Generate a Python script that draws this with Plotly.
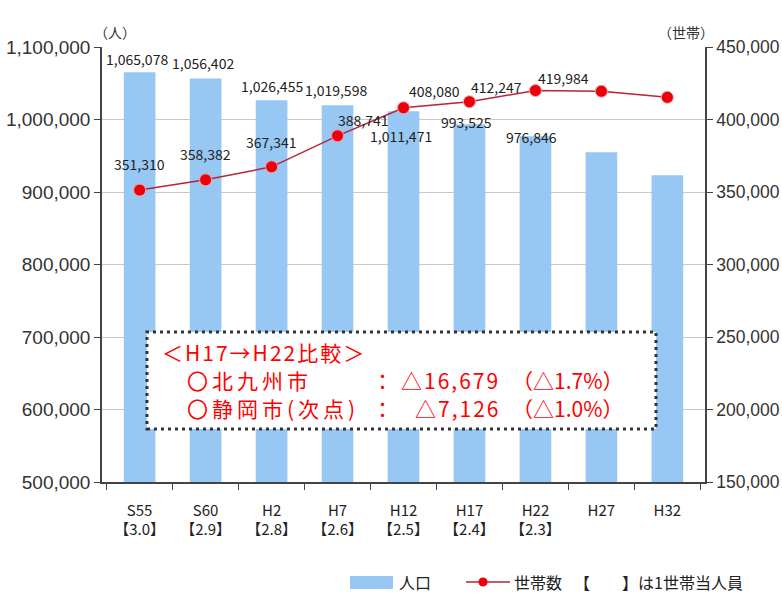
import plotly.graph_objects as go

# ---- data ----
categories = ["S55", "S60", "H2", "H7", "H12", "H17", "H22", "H27", "H32"]
persons_per_household = ["3.0", "2.9", "2.8", "2.6", "2.5", "2.4", "2.3", "", ""]
population = [1065078, 1056402, 1026455, 1019598, 1011471, 993525, 976846, 955000, 923000]
households = [351310, 358382, 367341, 388741, 408080, 412247, 419984, 419500, 415300]
pop_labeled = [True, True, True, True, True, True, True, False, False]
hh_labeled = [True, True, True, True, True, True, True, False, False]

# ---- style (label offsets in px) ----
pop_label_shift = [(-3, 13), (-3, 16), (0, 14), (-2, 15), (-3, -25), (-3, 2), (-4, -1)]
hh_label_shift = [(0, 26), (0, 26), (0, 25), (26, 16), (31, 17), (27, 15), (28, 13)]

CJK = "Noto Sans CJK JP"
SANS = "Liberation Sans"
BAR_COLOR = "#97c7f3"
LINE_COLOR = "#b8233a"
MARK_COLOR = "#e8000b"

ticktext = [f"{c}<br>【{r}】" if r else c for c, r in zip(categories, persons_per_household)]

fig = go.Figure()
fig.add_trace(go.Bar(
    x=categories, y=population, name="人口",
    marker=dict(color=BAR_COLOR, line=dict(width=0)),
    yaxis="y",
))
fig.add_trace(go.Scatter(
    x=categories, y=households, name="世帯数", mode="lines+markers",
    line=dict(color=LINE_COLOR, width=1.5),
    marker=dict(color=MARK_COLOR, size=12, line=dict(color="#ff9c9c", width=1)),
    yaxis="y2",
))

annotations = []
i = 0
for c, v, ok in zip(categories, population, pop_labeled):
    if ok:
        dx, dy = pop_label_shift[i]
        annotations.append(dict(x=c, y=v, xref="x", yref="y", text=f"{v:,}", showarrow=False,
                                xshift=dx, yshift=dy, font=dict(family=CJK, size=14, color="#222")))
        i += 1
i = 0
for c, v, ok in zip(categories, households, hh_labeled):
    if ok:
        dx, dy = hh_label_shift[i]
        annotations.append(dict(x=c, y=v, xref="x", yref="y2", text=f"{v:,}", showarrow=False,
                                xshift=dx, yshift=dy, font=dict(family=CJK, size=14, color="#222")))
        i += 1

# axis unit titles
annotations.append(dict(x=-0.017, y=1.062, xref="paper", yref="paper", text="（人）", showarrow=False,
                        font=dict(family=CJK, size=14, color="#333")))
annotations.append(dict(x=1.018, y=1.062, xref="paper", yref="paper", text="（世帯）", showarrow=False,
                        font=dict(family=CJK, size=14, color="#333")))

# manual legend
leg_y = -0.2299
leg_font = dict(family=CJK, size=16, color="#222")
for x, t in [(0.4892, "人口"), (0.680, "世帯数"), (0.7794, "【　　】は1世帯当人員")]:
    annotations.append(dict(x=x, y=leg_y, xref="paper", yref="paper", xanchor="left", yanchor="middle",
                            text=t, showarrow=False, font=leg_font))

# comparison box text
red = dict(family=CJK, size=21, color="#ff0000")
box_lines = [
    (0.096, 0.299, "left", '<span style="letter-spacing:2px">＜H17→H22比較＞</span>'),
    (0.1376, 0.2345, "left", '<span style="letter-spacing:4px">〇北九州市</span>'),
    (0.466, 0.2345, "center", "："),
    (0.6634, 0.2345, "right", '<span style="letter-spacing:2px">△16,679</span>'),
    (0.676, 0.2345, "left", "（△1.7%）"),
    (0.1376, 0.170, "left", '<span style="letter-spacing:4px">〇静岡市(次点)</span>'),
    (0.466, 0.170, "center", "："),
    (0.6634, 0.170, "right", '<span style="letter-spacing:2px">△7,126</span>'),
    (0.676, 0.170, "left", "（△1.0%）"),
]
for x, y, anc, t in box_lines:
    annotations.append(dict(x=x, y=y, xref="paper", yref="paper", xanchor=anc, yanchor="middle",
                            text=t, showarrow=False, font=red))

shapes = [
    dict(type="rect", xref="paper", yref="paper", x0=0.0746, x1=0.9187, y0=0.1218, y1=0.3448,
         line=dict(color="#333333", width=3, dash="3px,4px"), fillcolor="white", layer="above"),
    # legend swatches
    dict(type="rect", xref="paper", yref="paper", x0=0.4113, x1=0.4826, y0=-0.246, y1=-0.2161,
         line=dict(width=0), fillcolor=BAR_COLOR),
    dict(type="line", xref="paper", yref="paper", x0=0.6036, x1=0.6766, y0=leg_y, y1=leg_y,
         line=dict(color=LINE_COLOR, width=1.5)),
    dict(type="circle", xref="paper", yref="paper", x0=0.6252, x1=0.6385, y0=leg_y - 0.0092, y1=leg_y + 0.0092,
         line=dict(color=MARK_COLOR, width=1), fillcolor=MARK_COLOR),
]

fig.update_layout(
    width=782, height=593,
    margin=dict(l=102, r=77, t=47, b=111, autoexpand=False),
    paper_bgcolor="white", plot_bgcolor="white",
    bargap=0.52,
    showlegend=False,
    font=dict(family=CJK),
    xaxis=dict(tickmode="array", tickvals=categories, ticktext=ticktext, automargin=False,
               tickangle=0,
               tickson="boundaries", ticks="outside", ticklen=6, tickcolor="#444",
               showline=True, linecolor="#444", linewidth=1.5, showgrid=False,
               ticklabelstandoff=14,
               tickfont=dict(family=CJK, size=15, color="#222")),
    yaxis=dict(range=[500000, 1100000], dtick=100000, tickformat=",", ticks="outside", ticklen=6,
               tickcolor="#444", showline=True, linecolor="#444", linewidth=1.5, automargin=False,
               showgrid=True, gridcolor="#c8c8c8", gridwidth=1, zeroline=False,
               tickfont=dict(family=SANS, size=19, color="#333")),
    yaxis2=dict(range=[150000, 450000], dtick=50000, tickformat=",", overlaying="y", side="right",
                ticks="outside", ticklen=6, tickcolor="#444", showline=True, linecolor="#444",
                automargin=False,
                linewidth=1.5, showgrid=False, zeroline=False,
                tickfont=dict(family=SANS, size=17.5, color="#333")),
    annotations=annotations,
    shapes=shapes,
)

fig.write_html("out.html")
